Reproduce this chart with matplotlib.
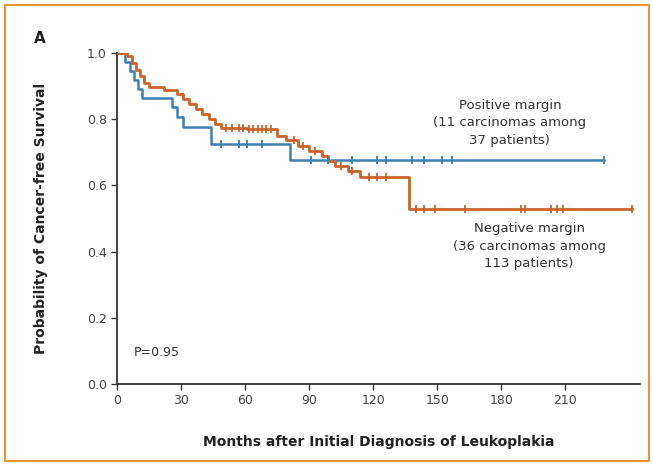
import matplotlib
matplotlib.use("Agg")
import matplotlib.pyplot as plt
from matplotlib.patches import Rectangle

# Positive margin (blue) step curve: months, survival after event
pos_months = [0, 4, 6, 8, 10, 12, 26, 28, 31, 44, 81, 228]
pos_surv   = [1.0, 0.973, 0.946, 0.919, 0.892, 0.865, 0.838, 0.808, 0.778, 0.724, 0.678, 0.678]
pos_censor = [49, 57, 61, 68, 91, 99, 110, 122, 126, 138, 144, 152, 157, 228]

# Negative margin (orange) step curve
neg_months = [0, 5, 7, 9, 11, 13, 15, 22, 28, 31, 34, 37, 40, 43, 46, 49, 61, 75, 79, 85, 90,
              96, 99, 102, 108, 114, 137, 241]
neg_surv   = [1.0, 0.99, 0.97, 0.95, 0.93, 0.91, 0.897, 0.888, 0.875, 0.86, 0.845, 0.83, 0.815,
              0.80, 0.785, 0.775, 0.77, 0.748, 0.737, 0.72, 0.705, 0.69, 0.675, 0.66, 0.645,
              0.625, 0.53, 0.53]
neg_censor = [51, 54, 57, 59, 62, 64, 66, 68, 70, 72, 83, 87, 93, 105, 110, 118, 122, 126,
              140, 144, 149, 163, 189, 191, 203, 206, 209, 241]

xticks = [0, 30, 60, 90, 120, 150, 180, 210]
yticks = [0.0, 0.2, 0.4, 0.6, 0.8, 1.0]

blue = "#3f7fae"
orange = "#c8642c"

fig = plt.figure(figsize=(6.52, 4.65), dpi=100)
ax = fig.add_axes([0.179, 0.174, 0.803, 0.712])


def surv_at(months, surv, t):
    s = surv[0]
    for m, v in zip(months, surv):
        if m <= t:
            s = v
    return s

ax.step(pos_months, pos_surv, where="post", color=blue, lw=1.8, zorder=3)
ax.step(neg_months, neg_surv, where="post", color=orange, lw=2.0, zorder=4)

ax.plot(pos_censor, [surv_at(pos_months, pos_surv, t) for t in pos_censor], ls="none",
        marker="|", ms=6, mew=1.3, color=blue, zorder=5)
ax.plot(neg_censor, [surv_at(neg_months, neg_surv, t) for t in neg_censor], ls="none",
        marker="|", ms=6, mew=1.3, color=orange, zorder=5)

ax.set_xlim(0, 245)
ax.set_ylim(0, 1.0)
ax.set_xticks(xticks)
ax.set_yticks(yticks)
ax.set_xticklabels([str(t) for t in xticks])
ax.set_yticklabels([f"{t:.1f}" for t in yticks])
for s in ["top", "right"]:
    ax.spines[s].set_visible(False)
for s in ["left", "bottom"]:
    ax.spines[s].set_color("#333333")
    ax.spines[s].set_linewidth(1.3)
ax.tick_params(direction="out", length=4, width=1, colors="#333333", labelsize=9,
               labelcolor="#444444", pad=3)

ax.set_xlabel("Months after Initial Diagnosis of Leukoplakia", fontsize=10,
              fontweight="bold", color="#222222", labelpad=20)
ax.set_ylabel("Probability of Cancer-free Survival", fontsize=10, fontweight="bold",
              color="#222222", labelpad=28)

ax.text(184, 0.79, "Positive margin\n(11 carcinomas among\n37 patients)", ha="center",
        va="center", fontsize=9.5, color="#333333", linespacing=1.45)
ax.text(193, 0.417, "Negative margin\n(36 carcinomas among\n113 patients)", ha="center",
        va="center", fontsize=9.5, color="#333333", linespacing=1.45)
ax.text(8, 0.095, "P=0.95", ha="left", va="center", fontsize=9, color="#333333")

fig.text(0.052, 0.918, "A", fontsize=11, fontweight="bold", color="#222222",
         ha="left", va="center")

fig.patches.append(Rectangle((0.008, 0.008), 0.988, 0.982, transform=fig.transFigure,
                             fill=False, edgecolor="#e8953a", lw=1.5))

fig.savefig("out.png", dpi=100)
